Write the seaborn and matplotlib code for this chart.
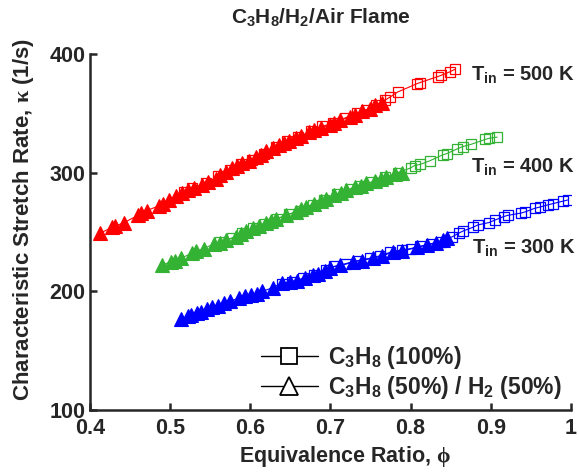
import matplotlib
matplotlib.use("Agg")
import matplotlib.pyplot as plt
from matplotlib.lines import Line2D
import seaborn as sns
import pandas as pd

# Equivalence ratio (phi) and characteristic stretch rate (1/s)
# C3H8 (100%) -> squares, C3H8/H2 (50/50) -> triangles
phi_500_c3h8 = [0.518, 0.528, 0.545, 0.560, 0.575, 0.588, 0.602, 0.617, 0.632, 0.646,
                0.660, 0.676, 0.690, 0.703, 0.718, 0.733, 0.745, 0.757, 0.768, 0.775,
                0.784, 0.808, 0.812, 0.834, 0.838, 0.849, 0.855]
k_500_c3h8 = [284, 287, 291, 297, 302, 307, 311, 316, 322, 327,
              330, 335, 339, 342, 346, 350, 353, 357, 361, 364,
              368, 375, 376, 381, 382, 385, 387]
phi_500_mix = [0.413, 0.428, 0.432, 0.443, 0.460, 0.464, 0.471, 0.486, 0.491, 0.499,
               0.507, 0.515, 0.522, 0.530, 0.540, 0.547, 0.557, 0.563, 0.570, 0.578,
               0.584, 0.590, 0.598, 0.607, 0.614, 0.620, 0.628, 0.636, 0.642, 0.649,
               0.657, 0.664, 0.674, 0.680, 0.688, 0.699, 0.705, 0.712, 0.724, 0.731,
               0.740, 0.749, 0.756, 0.765]
k_500_mix = [249, 254, 255, 258, 264, 266, 268, 272, 274, 277,
             280, 283, 285, 287, 290, 292, 295, 298, 301, 304,
             306, 308, 310, 313, 315, 318, 321, 323, 325, 327,
             329, 331, 334, 336, 338, 340, 342, 344, 347, 349,
             352, 354, 357, 359]

phi_400_c3h8 = [0.562, 0.578, 0.590, 0.604, 0.618, 0.633, 0.648, 0.662, 0.678, 0.692,
                0.708, 0.724, 0.738, 0.752, 0.768, 0.784, 0.800, 0.805, 0.812, 0.824,
                0.840, 0.845, 0.858, 0.865, 0.876, 0.893, 0.898, 0.908]
k_400_c3h8 = [242, 245, 249, 253, 257, 261, 265, 268, 273, 277,
              282, 286, 289, 292, 296, 300, 304, 306, 307, 310,
              315, 316, 320, 322, 324, 328, 329, 330]
phi_400_mix = [0.490, 0.501, 0.506, 0.514, 0.527, 0.533, 0.542, 0.555, 0.562, 0.570,
               0.582, 0.588, 0.595, 0.603, 0.611, 0.620, 0.626, 0.632, 0.645, 0.657,
               0.663, 0.670, 0.680, 0.688, 0.695, 0.705, 0.713, 0.720, 0.731, 0.738,
               0.745, 0.756, 0.763, 0.770, 0.781, 0.790]
k_400_mix = [222, 225, 226, 228, 232, 234, 236, 240, 241, 243,
             246, 248, 251, 253, 255, 258, 259, 261, 264, 267,
             269, 271, 274, 276, 278, 281, 283, 285, 288, 289,
             291, 293, 295, 296, 299, 300]

phi_300_c3h8 = [0.640, 0.652, 0.666, 0.680, 0.695, 0.705, 0.720, 0.735, 0.750, 0.762,
                0.775, 0.790, 0.800, 0.812, 0.825, 0.838, 0.852, 0.860, 0.866, 0.878,
                0.884, 0.898, 0.905, 0.916, 0.921, 0.938, 0.943, 0.955, 0.961, 0.972,
                0.978, 0.990, 0.996]
k_300_c3h8 = [206, 208, 211, 214, 218, 221, 223, 226, 228, 230,
              233, 235, 236, 238, 240, 242, 246, 249, 251, 254,
              256, 258, 260, 263, 264, 266, 267, 270, 271, 273,
              274, 276, 277]
phi_300_mix = [0.514, 0.522, 0.526, 0.534, 0.539, 0.546, 0.553, 0.560, 0.568, 0.575,
               0.586, 0.593, 0.601, 0.608, 0.615, 0.628, 0.640, 0.650, 0.659, 0.668,
               0.678, 0.685, 0.693, 0.699, 0.712, 0.728, 0.740, 0.753, 0.765, 0.778,
               0.790, 0.808, 0.820, 0.832, 0.840, 0.846]
k_300_mix = [177, 179, 180, 182, 183, 185, 187, 188, 190, 192,
             194, 196, 197, 198, 200, 203, 207, 208, 209, 211,
             214, 215, 217, 220, 222, 225, 226, 228, 230, 233,
             234, 237, 239, 241, 243, 245]

temp_labels = ["500", "400", "300"]
colors = {"500": "#ff0000", "400": "#33b233", "300": "#0000ff"}
label_pos = {"500": (0.876, 382), "400": (0.876, 304.5), "300": (0.877, 236)}

series = {
    ("500", "sq"): (phi_500_c3h8, k_500_c3h8),
    ("500", "tri"): (phi_500_mix, k_500_mix),
    ("400", "sq"): (phi_400_c3h8, k_400_c3h8),
    ("400", "tri"): (phi_400_mix, k_400_mix),
    ("300", "sq"): (phi_300_c3h8, k_300_c3h8),
    ("300", "tri"): (phi_300_mix, k_300_mix),
}

sns.set_style("ticks")
plt.rcParams["font.family"] = ["Liberation Sans", "DejaVu Sans"]
plt.rcParams["font.weight"] = "bold"
plt.rcParams["mathtext.fontset"] = "custom"
plt.rcParams["mathtext.rm"] = "Liberation Sans:bold"
plt.rcParams["mathtext.bf"] = "Liberation Sans:bold"
plt.rcParams["mathtext.it"] = "Liberation Serif"
plt.rcParams["mathtext.default"] = "rm"

fig = plt.figure(figsize=(5.79, 4.74), dpi=100)
ax = fig.add_axes([0.155, 0.135, 0.831, 0.751])

for (t, kind), (xs, ys) in series.items():
    df = pd.DataFrame({"phi": xs, "kappa": ys})
    c = colors[t]
    if kind == "tri":
        sns.lineplot(data=df, x="phi", y="kappa", ax=ax, estimator=None, sort=True,
                     color=c, lw=0.8, marker="^", markersize=10, mfc=c, mec=c,
                     mew=0.8, legend=False)
    else:
        sns.lineplot(data=df, x="phi", y="kappa", ax=ax, estimator=None, sort=True,
                     color=c, lw=0.8, marker="s", markersize=7.5, mfc="none", mec=c,
                     mew=0.9, legend=False)

for t in temp_labels:
    x, y = label_pos[t]
    ax.text(x, y, r"T$_{\mathrm{in}}$ = " + t + " K", fontsize=14.5, fontweight="bold",
            ha="left", va="center")

ax.set_xlim(0.4, 1.0)
ax.set_ylim(100, 400)
ax.set_xticks([0.4, 0.5, 0.6, 0.7, 0.8, 0.9, 1.0])
ax.set_xticklabels(["0.4", "0.5", "0.6", "0.7", "0.8", "0.9", "1"])
ax.set_yticks([100, 200, 300, 400])
ax.tick_params(direction="in", length=5, width=1.8, labelsize=15.5)
ax.tick_params(axis="x", pad=6)
ax.tick_params(axis="y", pad=3)
for lbl in ax.get_xticklabels() + ax.get_yticklabels():
    lbl.set_fontweight("bold")
for side in ["top", "right"]:
    ax.spines[side].set_visible(False)
for side in ["left", "bottom"]:
    ax.spines[side].set_linewidth(1.8)

ax.set_xlabel(r"Equivalence Ratio, $\it{\phi}$", fontsize=15.5, fontweight="bold")
ax.xaxis.set_label_coords(0.53, -0.095)
ax.set_ylabel(r"Characteristic Stretch Rate, $\it{\kappa}$ (1/s)", fontsize=16,
              fontweight="bold")
ax.yaxis.set_label_coords(-0.112, 0.535)
ax.set_title(r"C$_3$H$_8$/H$_2$/Air Flame", fontsize=15, fontweight="bold",
             x=0.48, pad=22)

handles = [
    Line2D([], [], color="black", lw=1, marker="s", ms=11, mfc="white", mec="black", mew=1.3),
    Line2D([], [], color="black", lw=1, marker="^", ms=13, mfc="white", mec="black", mew=1.3),
]
ax.legend(handles, [r"C$_3$H$_8$ (100%)", r"C$_3$H$_8$ (50%) / H$_2$ (50%)"],
          loc="lower right", bbox_to_anchor=(1.0, 0.0), frameon=False,
          fontsize=16.5, handlelength=2.5, handletextpad=0.45, labelspacing=0.12,
          borderaxespad=0.0)

fig.savefig("out.png", dpi=100)
